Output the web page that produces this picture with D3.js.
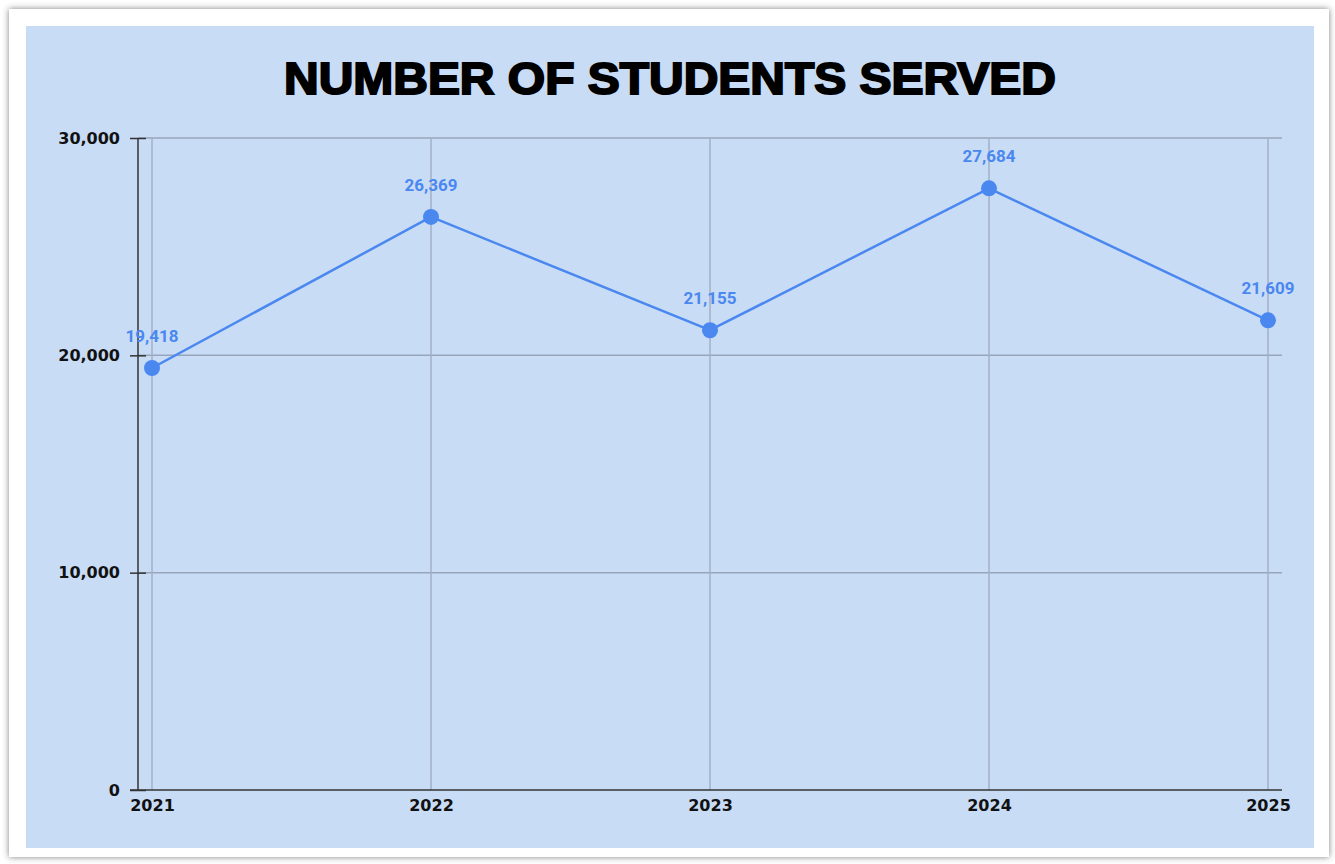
<!DOCTYPE html>
<html><head><meta charset="utf-8">
<script src="https://cdn.jsdelivr.net/npm/d3@7"></script>
<style>html,body{margin:0;padding:0;background:#fff;}svg{display:block;}</style>
</head><body>
<svg id="c" width="1335" height="864"></svg>
<script>
const years = ["2021","2022","2023","2024","2025"];
const students = [19418, 26369, 21155, 27684, 21609];
const yTicks = [0, 10000, 20000, 30000];
const title = "NUMBER OF STUDENTS SERVED";

const svg = d3.select("#c");
const defs = svg.append("defs");
const f = defs.append("filter").attr("id","sh").attr("x","-5%").attr("y","-5%").attr("width","110%").attr("height","110%");
f.append("feDropShadow").attr("dx",0).attr("dy",0).attr("stdDeviation",3).attr("flood-color","#444").attr("flood-opacity",0.7);

svg.append("rect").attr("x",9).attr("y",9).attr("width",1320).attr("height",848).attr("fill","#fff").attr("filter","url(#sh)");
svg.append("rect").attr("x",26).attr("y",26).attr("width",1288).attr("height",822).attr("fill","#c9dcf6");

const x = d3.scalePoint().domain(years).range([152,1268]);
const y = d3.scaleLinear().domain([0,30000]).range([790,138]);

svg.append("text").attr("x",670).attr("y",94).attr("text-anchor","middle")
  .attr("font-family","Liberation Sans, Arial, sans-serif").attr("font-weight","bold")
  .attr("font-size",45).attr("fill","#000").attr("stroke","#000").attr("stroke-width",2)
  .attr("textLength",772).attr("lengthAdjust","spacingAndGlyphs").text(title);

// horizontal gridlines
svg.append("g").selectAll("line").data(yTicks.slice(1)).join("line")
  .attr("x1",138).attr("x2",1282).attr("y1",d=>y(d)).attr("y2",d=>y(d))
  .attr("stroke","#98a6bb").attr("stroke-width",1.5);
// vertical gridlines
svg.append("g").selectAll("line").data(years).join("line")
  .attr("x1",d=>x(d)).attr("x2",d=>x(d)).attr("y1",138).attr("y2",790)
  .attr("stroke","#a3b1c6").attr("stroke-width",1.5);

const axisFont = "DejaVu Sans, Verdana, sans-serif";
// y axis
const ya = svg.append("g").attr("transform","translate(138,0)")
  .call(d3.axisLeft(y).tickValues(yTicks).tickFormat(d3.format(",")).tickSize(8).tickPadding(10));
ya.select(".domain").attr("stroke","#333").attr("stroke-width",1.5).attr("d","M0,138V790");
ya.selectAll(".tick line").attr("stroke","#333").attr("stroke-width",1.5).attr("x2",-8).attr("x1",8);
ya.selectAll(".tick text").attr("font-family",axisFont).attr("font-weight","bold")
  .attr("font-size",16).attr("fill","#111");

// x axis
const xa = svg.append("g").attr("transform","translate(0,790)")
  .call(d3.axisBottom(x).tickSize(0).tickPadding(10));
xa.select(".domain").attr("stroke","#333").attr("stroke-width",1.5).attr("d","M130,0H1282");
xa.selectAll(".tick text").attr("font-family",axisFont).attr("font-weight","bold")
  .attr("font-size",16).attr("fill","#111");

// line
const pts = years.map((yr,i)=>[yr,students[i]]);
svg.append("path").datum(pts).attr("fill","none").attr("stroke","#4a88f0").attr("stroke-width",2.5)
  .attr("d",d3.line().x(d=>x(d[0])).y(d=>y(d[1])));
svg.append("g").selectAll("circle").data(pts).join("circle")
  .attr("cx",d=>x(d[0])).attr("cy",d=>y(d[1])).attr("r",8).attr("fill","#4a88f0");
svg.append("g").selectAll("text").data(pts).join("text")
  .attr("x",d=>x(d[0])).attr("y",d=>y(d[1])-26).attr("text-anchor","middle")
  .attr("font-family","Roboto, Arial, sans-serif").attr("font-weight","bold").attr("font-size",17)
  .attr("fill","#4a88f0").text(d=>d3.format(",")(d[1]));
</script>
</body></html>
